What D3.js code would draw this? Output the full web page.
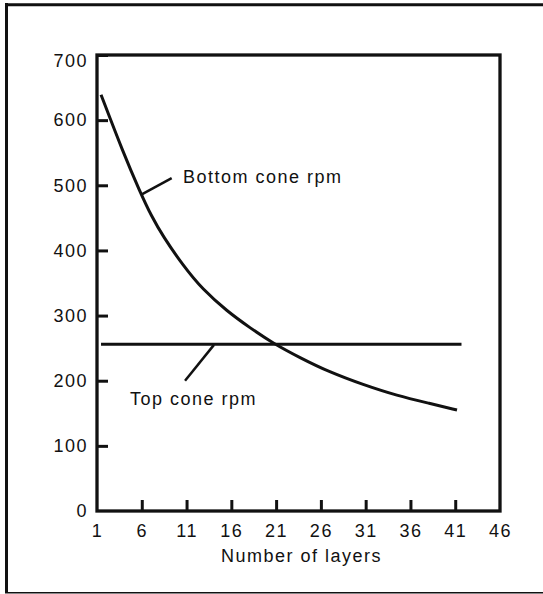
<!DOCTYPE html>
<html>
<head>
<meta charset="utf-8">
<script src="https://cdn.jsdelivr.net/npm/d3@7"></script>
<style>
  body { margin: 0; background: #fff; }
  svg text { font-family: "Liberation Sans", Arial, sans-serif; font-size: 18px; letter-spacing: 1.5px; fill: #111; }
</style>
</head>
<body>
<svg id="chart" width="543" height="594"></svg>
<script>
// --- data ---
const xTicks = [1, 6, 11, 16, 21, 26, 31, 36, 41, 46];
const yTicks = [0, 100, 200, 300, 400, 500, 600, 700];

// bottom cone rpm (curve)
const bottomLayers = [1.45, 3.9, 5.8, 7.1, 8.4, 10.6, 12.8, 15.5, 18.1, 20.6, 23.7, 27.0, 30.7, 34.5, 38.2, 41.2];
const bottomRpm    = [639, 551, 490, 452, 421, 377, 340, 307, 281, 258, 235, 213, 194, 177, 165, 155];

// top cone rpm (flat)
const topLayers = [1.45, 41.7];
const topRpm    = [256, 256];

const labels = ["Bottom cone rpm", "Top cone rpm"];
const xTitle = "Number of layers";

// --- layout ---
const svg = d3.select("#chart");
const m = { left: 97, right: 500, top: 55, bottom: 511 };

const x = d3.scaleLinear().domain([1, 46]).range([m.left, m.right]);
const y = d3.scaleLinear().domain([0, 700]).range([m.bottom, m.top]);

// outer frame: thick left + top, thin bottom
svg.append("line").attr("x1", 6.5).attr("x2", 6.5).attr("y1", 3).attr("y2", 593)
  .attr("stroke", "#111").attr("stroke-width", 3);
svg.append("line").attr("x1", 5).attr("x2", 543).attr("y1", 4.7).attr("y2", 4.7)
  .attr("stroke", "#111").attr("stroke-width", 3);
svg.append("line").attr("x1", 5).attr("x2", 543).attr("y1", 592.7).attr("y2", 592.7)
  .attr("stroke", "#111").attr("stroke-width", 1.5);

// axes (ticks inward)
const gx = svg.append("g").attr("transform", `translate(0,${m.bottom})`)
  .call(d3.axisBottom(x).tickValues(xTicks).tickSize(-11).tickPadding(13).tickSizeOuter(0));
const gy = svg.append("g").attr("transform", `translate(${m.left},0)`)
  .call(d3.axisLeft(y).tickValues(yTicks).tickSize(-11).tickPadding(9).tickSizeOuter(0));
[gx, gy].forEach(g => {
  g.select(".domain").remove();
  g.selectAll(".tick line").attr("stroke", "#111").attr("stroke-width", 3);
  g.selectAll(".tick text").attr("font-size", null).attr("font-family", null).attr("fill", "#111");
});
gy.selectAll(".tick").filter(d => d === 0).select("line").remove();
gy.selectAll(".tick").filter(d => d === 700).select("text").attr("dy", "0.62em");
gx.selectAll(".tick").filter(d => d === 1 || d === 46).select("line").remove();

// plot box
svg.append("rect")
  .attr("x", m.left).attr("y", m.top)
  .attr("width", m.right - m.left).attr("height", m.bottom - m.top)
  .attr("fill", "none").attr("stroke", "#111").attr("stroke-width", 3.3);

// series
svg.append("path")
  .datum(d3.zip(bottomLayers, bottomRpm))
  .attr("d", d3.line().x(d => x(d[0])).y(d => y(d[1])).curve(d3.curveBasis))
  .attr("fill", "none").attr("stroke", "#111").attr("stroke-width", 3);
svg.append("path")
  .datum(d3.zip(topLayers, topRpm))
  .attr("d", d3.line().x(d => x(d[0])).y(d => y(d[1])))
  .attr("fill", "none").attr("stroke", "#111").attr("stroke-width", 3);

// annotations (leader from mark, in data units)
const notes = [
  { text: labels[0], from: [6.0, 486], to: [9.34, 511], at: [10.6, 504] },
  { text: labels[1], from: [10.83, 200], to: [14.06, 255], at: [4.68, 163] }
];
notes.forEach(n => {
  svg.append("line")
    .attr("x1", x(n.from[0])).attr("y1", y(n.from[1]))
    .attr("x2", x(n.to[0])).attr("y2", y(n.to[1]))
    .attr("stroke", "#111").attr("stroke-width", 2.5);
  svg.append("text").attr("x", x(n.at[0])).attr("y", y(n.at[1])).text(n.text);
});

// x title
svg.append("text")
  .attr("x", (m.left + m.right) / 2 + 3).attr("y", 562)
  .attr("text-anchor", "middle").text(xTitle);
</script>
</body>
</html>
